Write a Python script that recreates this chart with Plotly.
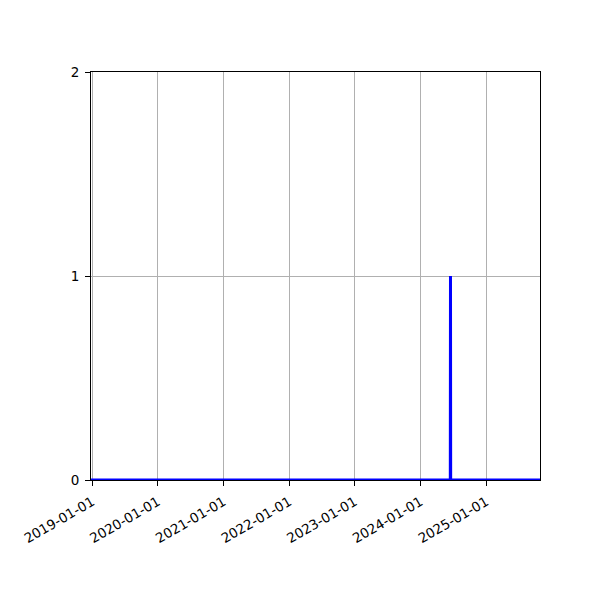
import plotly.graph_objects as go

# daily counts: zero everywhere except one day
dates = ["2018-12-25", "2024-06-15", "2024-06-16", "2024-06-17", "2025-10-27"]
counts = [0, 0, 1, 0, 0]

x_range = ["2018-12-25", "2025-10-27"]
y_ticks = [0, 1, 2]

fig = go.Figure()
fig.add_trace(go.Scatter(
    x=dates,
    y=counts,
    mode="lines",
    line=dict(color="blue", width=3),
    showlegend=False,
))

axis_common = dict(
    showline=True,
    linecolor="black",
    linewidth=1,
    mirror=True,
    ticks="outside",
    ticklen=5,
    tickwidth=1,
    tickcolor="black",
    ticklabelstandoff=3,
    showgrid=True,
    gridcolor="#b0b0b0",
    gridwidth=1,
    zeroline=False,
    tickfont=dict(family="DejaVu Sans", size=13.5, color="black"),
)

# page body adds an 8px offset, so margins are shifted to compensate
fig.update_layout(
    width=600,
    height=600,
    margin=dict(l=83, r=68, t=64, b=128),
    paper_bgcolor="white",
    plot_bgcolor="white",
    xaxis=dict(
        axis_common,
        type="date",
        range=x_range,
        tickformat="%Y-%m-%d",
        dtick="M12",
        tick0="2019-01-01",
        tickangle=-30,
    ),
    yaxis=dict(
        axis_common,
        range=[0, 2],
        tickvals=y_ticks,
    ),
)

fig.write_html("out.html")
